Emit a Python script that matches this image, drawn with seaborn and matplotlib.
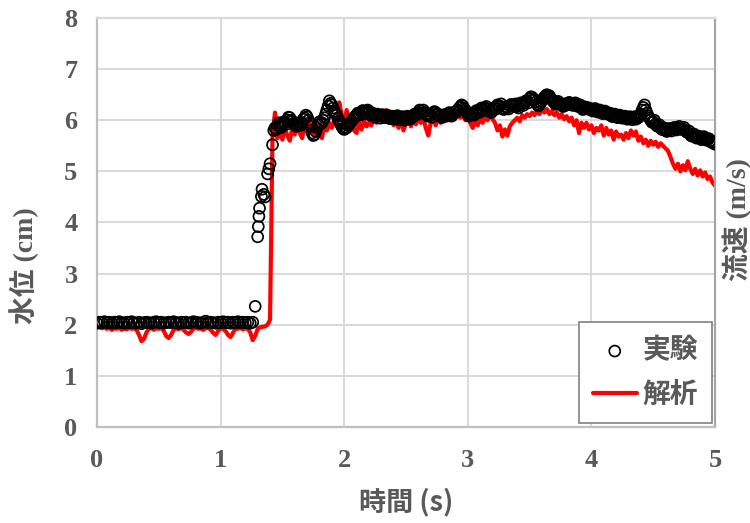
import numpy as np
import pandas as pd
import matplotlib
matplotlib.use("Agg")
import matplotlib.pyplot as plt
import seaborn as sns

# ---------------- data ----------------
# simulation (解析): sampled every 0.02 s from 0.00 to 5.00
sim_start, sim_step = 0.0, 0.02
sim_values = [
    1.97, 1.95, 1.93, 1.95, 1.92, 1.94, 1.90, 1.93, 1.92, 1.94,   # 0.00
    1.90, 1.93, 1.91, 1.94, 1.92, 1.93, 1.90, 1.80, 1.68, 1.72,   # 0.20
    1.85, 1.92, 1.94, 1.90, 1.93, 1.92, 1.94, 1.88, 1.78, 1.74,   # 0.40
    1.80, 1.90, 1.93, 1.91, 1.94, 1.90, 1.85, 1.82, 1.86, 1.92,   # 0.60
    1.94, 1.92, 1.93, 1.90, 1.93, 1.94, 1.90, 1.84, 1.80, 1.88,   # 0.80
    1.93, 1.92, 1.88, 1.80, 1.76, 1.84, 1.93, 1.92, 1.94, 1.91,   # 1.00
    1.93, 1.92, 1.85, 1.70, 1.78, 1.92, 1.95, 1.96, 1.97, 2.00,   # 1.20
    2.10, 5.70, 6.15, 5.65, 5.80, 5.62, 5.85, 5.70, 5.60, 5.85,   # 1.40
    5.72, 5.90, 5.75, 5.65, 5.88, 5.78, 5.95, 5.85, 5.70, 5.80,   # 1.60
    5.90, 5.65, 5.92, 5.80, 5.95, 5.85, 6.00, 5.90, 6.35, 6.10,   # 1.80
    5.95, 6.20, 5.85, 6.00, 5.80, 5.75, 5.95, 5.82, 6.00, 5.88,   # 2.00
    5.95, 5.90, 6.05, 5.95, 6.10, 6.05, 6.15, 6.20, 6.00, 6.05,   # 2.20
    5.90, 6.00, 5.85, 6.02, 5.80, 5.95, 6.00, 5.88, 6.02, 5.92,   # 2.40
    6.05, 5.95, 6.05, 5.85, 5.70, 5.95, 6.02, 5.90, 6.05, 5.95,   # 2.60
    6.05, 6.00, 6.10, 6.00, 6.08, 6.05, 6.10, 6.05, 6.12, 6.00,   # 2.80
    6.08, 5.95, 5.85, 6.00, 5.90, 6.05, 5.95, 6.08, 6.00, 6.10,   # 3.00
    6.02, 5.95, 5.80, 5.90, 5.68, 5.82, 5.70, 5.88, 5.95, 6.00,   # 3.20
    6.05, 5.98, 6.10, 6.05, 6.12, 6.08, 6.15, 6.10, 6.18, 6.12,   # 3.40
    6.20, 6.15, 6.22, 6.12, 6.18, 6.10, 6.15, 6.05, 6.12, 6.02,   # 3.60
    6.08, 5.98, 6.05, 5.90, 6.00, 5.75, 5.95, 5.85, 5.95, 5.82,   # 3.80
    5.90, 5.75, 5.85, 5.80, 5.90, 5.70, 5.85, 5.72, 5.80, 5.62,   # 4.00
    5.78, 5.68, 5.72, 5.62, 5.75, 5.65, 5.80, 5.70, 5.78, 5.60,   # 4.20
    5.68, 5.55, 5.62, 5.50, 5.60, 5.52, 5.58, 5.48, 5.55, 5.50,   # 4.40
    5.45, 5.40, 5.28, 5.15, 5.05, 5.15, 5.00, 5.12, 5.02, 5.20,   # 4.60
    5.05, 4.95, 5.05, 4.92, 5.02, 4.90, 4.98, 4.85, 4.90, 4.78,   # 4.80
    4.72,                                                          # 5.00
]

# experiment (実験): still-water part, sampled every 0.02 s from 0.00
exp_base_start, exp_step = 0.0, 0.02
exp_base_values = [
    2.03, 2.05, 2.04, 2.06, 2.04, 2.05, 2.03, 2.05, 2.04, 2.06,
    2.04, 2.03, 2.05, 2.04, 2.06, 2.04, 2.03, 2.05, 2.02, 2.04,
    2.05, 2.04, 2.03, 2.05, 2.06, 2.04, 2.05, 2.03, 2.04, 2.05,
    2.04, 2.06, 2.04, 2.03, 2.05, 2.04, 2.05, 2.03, 2.04, 2.06,
    2.05, 2.04, 2.03, 2.05, 2.07, 2.04, 2.05, 2.04, 2.03, 2.05,
    2.04, 2.06, 2.04, 2.05, 2.03, 2.05, 2.04, 2.06, 2.04, 2.05,
    2.04, 2.05, 2.03, 2.05,
]
# experiment: bore arrival
exp_rise_t = [1.28, 1.30, 1.305, 1.31, 1.315, 1.33, 1.335, 1.35, 1.36,
              1.38, 1.39, 1.40, 1.42, 1.43]
exp_rise_values = [2.36, 3.72, 3.92, 4.12, 4.28, 4.51, 4.65, 4.55, 4.50,
                   4.95, 5.05, 5.15, 5.52, 5.80]
# experiment: after arrival, every 0.02 s from 1.44
exp_top_start = 1.44
exp_top_values = [
    5.85, 5.90, 5.88, 5.92, 5.95, 6.00, 6.05, 5.98, 5.92, 5.90,
    5.92, 5.95, 6.05, 6.07, 5.95, 5.75, 5.72, 5.85, 5.97, 5.95,
    6.05, 6.20, 6.38, 6.30, 6.18, 6.10, 5.98, 5.88, 5.82, 5.85,
    5.92, 5.98, 6.05, 6.10, 6.12, 6.15, 6.17, 6.18, 6.15, 6.12,
    6.10, 6.10, 6.08, 6.08, 6.07, 6.08, 6.06, 6.05, 6.04, 6.06,
    6.05, 6.04, 6.03, 6.05, 6.06, 6.04, 6.08, 6.10, 6.15, 6.18,
    6.20, 6.12, 6.08, 6.10, 6.14, 6.15, 6.12, 6.08, 6.07, 6.10,
    6.12, 6.10, 6.12, 6.15, 6.20, 6.26, 6.28, 6.20, 6.12, 6.10,
    6.12, 6.15, 6.18, 6.20, 6.22, 6.24, 6.22, 6.18, 6.20, 6.25,
    6.30, 6.28, 6.24, 6.22, 6.25, 6.28, 6.30, 6.28, 6.27, 6.30,
    6.32, 6.35, 6.38, 6.42, 6.45, 6.40, 6.32, 6.30, 6.38, 6.45,
    6.50, 6.48, 6.40, 6.35, 6.33, 6.35, 6.30, 6.28, 6.30, 6.35,
    6.33, 6.30, 6.32, 6.28, 6.25, 6.22, 6.25, 6.24, 6.22, 6.20,
    6.20, 6.18, 6.17, 6.16, 6.15, 6.12, 6.10, 6.10, 6.08, 6.07,
    6.08, 6.06, 6.05, 6.04, 6.05, 6.04, 6.02, 6.05, 6.12, 6.25,
    6.20, 6.08, 6.00, 5.97, 5.92, 5.88, 5.85, 5.82, 5.80, 5.80,
    5.82, 5.83, 5.84, 5.85, 5.85, 5.83, 5.80, 5.76, 5.72, 5.70,
    5.68, 5.66, 5.65, 5.66, 5.64, 5.62, 5.60, 5.56, 5.53,
]
# experiment: interleaved samples, every 0.02 s from 1.45
exp_top2_start = 1.45
exp_top2_values = [
    5.82, 5.95, 5.86, 5.97, 5.92, 6.06, 6.00, 5.94, 5.88, 5.95,
    5.90, 6.02, 6.10, 6.00, 5.88, 5.70, 5.78, 5.92, 5.93, 6.00,
    6.12, 6.28, 6.33, 6.24, 6.14, 6.03, 5.93, 5.84, 5.86, 5.90,
    5.95, 6.03, 6.08, 6.14, 6.10, 6.19, 6.14, 6.20, 6.10, 6.14,
    6.06, 6.12, 6.04, 6.11, 6.05, 6.10, 6.03, 6.08, 6.02, 6.09,
    6.01, 6.07, 6.00, 6.08, 6.02, 6.07, 6.12, 6.13, 6.20, 6.14,
    6.16, 6.09, 6.12, 6.06, 6.17, 6.11, 6.09, 6.05, 6.11, 6.08,
    6.15, 6.08, 6.16, 6.18, 6.24, 6.30, 6.23, 6.16, 6.08, 6.14,
    6.10, 6.19, 6.15, 6.24, 6.19, 6.27, 6.19, 6.15, 6.24, 6.22,
    6.26, 6.32, 6.21, 6.26, 6.22, 6.31, 6.27, 6.32, 6.24, 6.34,
    6.29, 6.38, 6.34, 6.46, 6.41, 6.36, 6.28, 6.34, 6.42, 6.48,
    6.46, 6.43, 6.37, 6.31, 6.37, 6.32, 6.27, 6.32, 6.33, 6.31,
    6.29, 6.34, 6.27, 6.30, 6.21, 6.26, 6.22, 6.21, 6.18, 6.23,
    6.16, 6.20, 6.13, 6.18, 6.12, 6.14, 6.07, 6.12, 6.05, 6.10,
    6.04, 6.08, 6.02, 6.07, 6.01, 6.07, 6.04, 6.09, 6.20, 6.30,
    6.14, 6.04, 5.96, 6.00, 5.89, 5.91, 5.82, 5.85, 5.78, 5.84,
    5.79, 5.86, 5.81, 5.88, 5.82, 5.86, 5.77, 5.79, 5.69, 5.73,
    5.65, 5.69, 5.62, 5.68, 5.61, 5.64, 5.57, 5.58,
]

x_ticks = [0, 1, 2, 3, 4, 5]
y_ticks = [0, 1, 2, 3, 4, 5, 6, 7, 8]
x_label = "時間 (s)"
y_label = "水位 (cm)"
y2_label = "流速 (m/s)"
exp_name = "実験"
sim_name = "解析"

# ---------------- tables ----------------
sim_t = sim_start + sim_step * np.arange(len(sim_values))
sim_df = pd.DataFrame({"t": sim_t, "h": sim_values})

exp_t = np.concatenate([
    exp_base_start + exp_step * np.arange(len(exp_base_values)),
    np.array(exp_rise_t),
    exp_top_start + exp_step * np.arange(len(exp_top_values)),
    exp_top2_start + exp_step * np.arange(len(exp_top2_values)),
])
exp_h = np.concatenate([exp_base_values, exp_rise_values, exp_top_values,
                        exp_top2_values])
exp_df = pd.DataFrame({"t": exp_t, "h": exp_h})

# ---------------- style ----------------
sns.set_style("white")
GRAY = "#595959"
serif_cjk = ["Liberation Serif", "Noto Sans CJK JP"]
plt.rcParams["font.family"] = serif_cjk

fig = plt.figure(figsize=(7.5, 5.23), dpi=100)
ax = fig.add_axes([97 / 750, 1 - 427 / 523, 618 / 750, 409 / 523])

sns.lineplot(data=sim_df, x="t", y="h", ax=ax, color="#ff0000", lw=3.0,
             label=sim_name, zorder=2, sort=False)
sns.scatterplot(data=exp_df, x="t", y="h", ax=ax, marker="o", s=62,
                facecolors="none", edgecolor="black", linewidth=1.25,
                label=exp_name, zorder=3)

ax.set_xlim(0, 5)
ax.set_ylim(0, 8)
ax.set_xticks(x_ticks)
ax.set_yticks(y_ticks)
ax.set_xticklabels([str(v) for v in x_ticks])
ax.set_yticklabels([str(v) for v in y_ticks])
for lab in ax.get_xticklabels() + ax.get_yticklabels():
    lab.set_fontfamily(["Liberation Serif"])
    lab.set_fontweight("bold")
    lab.set_fontsize(19)
    lab.set_color(GRAY)
ax.tick_params(axis="x", length=0, pad=16)
ax.tick_params(axis="y", length=0, pad=14)

ax.grid(True, color="#d9d9d9", lw=1.4)
ax.set_axisbelow(True)
for side, sp in ax.spines.items():
    sp.set_visible(True)
    sp.set_color("#bfbfbf")
    sp.set_linewidth(1.6)
ax.spines["top"].set_color("#d9d9d9")
ax.spines["right"].set_color("#a6a6a6")

ax.set_xlabel(x_label, fontfamily=["Noto Sans CJK JP"], fontweight="bold",
              fontsize=19.5, color=GRAY)
ax.xaxis.set_label_coords(0.5, -0.148)
ax.set_ylabel(y_label, fontfamily=serif_cjk, fontweight="bold",
              fontsize=20, color=GRAY)
ax.yaxis.set_label_coords(-0.094, 0.394)
ax.text(1.037, 0.506, y2_label, transform=ax.transAxes, rotation=90,
        ha="center", va="center", fontfamily=serif_cjk, fontweight="bold",
        fontsize=20, color=GRAY)

handles, labels = ax.get_legend_handles_labels()
order = [labels.index(exp_name), labels.index(sim_name)]
leg = ax.legend([handles[i] for i in order], [labels[i] for i in order],
                loc="lower right", bbox_to_anchor=(0.995, 0.01),
                borderaxespad=0.0,
                frameon=True, fancybox=False, framealpha=1,
                edgecolor="#808080", handlelength=1.6, handletextpad=0.2,
                labelspacing=0.6, borderpad=0.5,
                prop={"family": ["Noto Sans CJK JP"], "weight": "bold",
                      "size": 20})
leg.get_frame().set_linewidth(1.2)
for t in leg.get_texts():
    t.set_color(GRAY)

fig.savefig("out.png", dpi=100)
